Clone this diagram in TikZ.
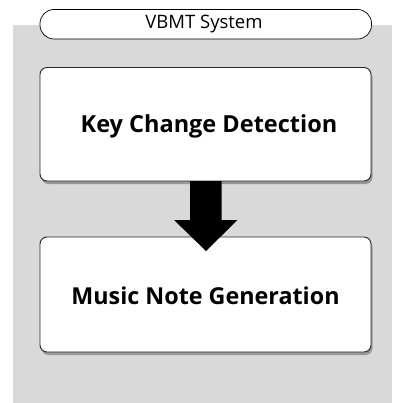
\documentclass[tikz,border=0pt]{standalone}
\usepackage{fontspec}
\setmainfont{Open Sans}
\usetikzlibrary{shadows}
\definecolor{bggray}{RGB}{217,217,217}
\tikzset{
  stagebox/.style={draw=black!85, line width=0.9pt, fill=white, rounded corners=7pt,
    drop shadow={shadow xshift=1.5pt, shadow yshift=-3pt, opacity=0.3, fill=black}},
  pill/.style={draw=black, line width=0.7pt, fill=white, rounded corners=14pt},
  bigarrow/.style={fill=black, draw=none}
}
\begin{document}
\begin{tikzpicture}[x=1pt,y=-1pt]
\useasboundingbox (0,0) rectangle (392,403);
\fill[bggray] (13,25) rectangle (392,403);
\draw[pill] (40,9.5) rectangle (371.5,39);
\node (title) at (204,24) {\fontsize{18.5}{22}\selectfont VBMT System};
\draw[stagebox] (40,67.5) rectangle (371,181) node[pos=0.5] (kcd) {};
\node (kcdt) at (209,126) {\fontsize{23.5}{28}\selectfont\bfseries Key Change Detection};
\draw[stagebox] (40,237) rectangle (371,352) node[pos=0.5] (mng) {};
\node (mngt) at (205.5,296) {\fontsize{23.3}{28}\selectfont\bfseries Music Note Generation};
\coordinate (a1) at (190,181);
\fill[bigarrow] (a1) -- (221.5,181) -- (221.5,220) -- (237.5,220) -- (206,251) -- (174,220) -- (190,220) -- cycle;
\end{tikzpicture}
\end{document}
